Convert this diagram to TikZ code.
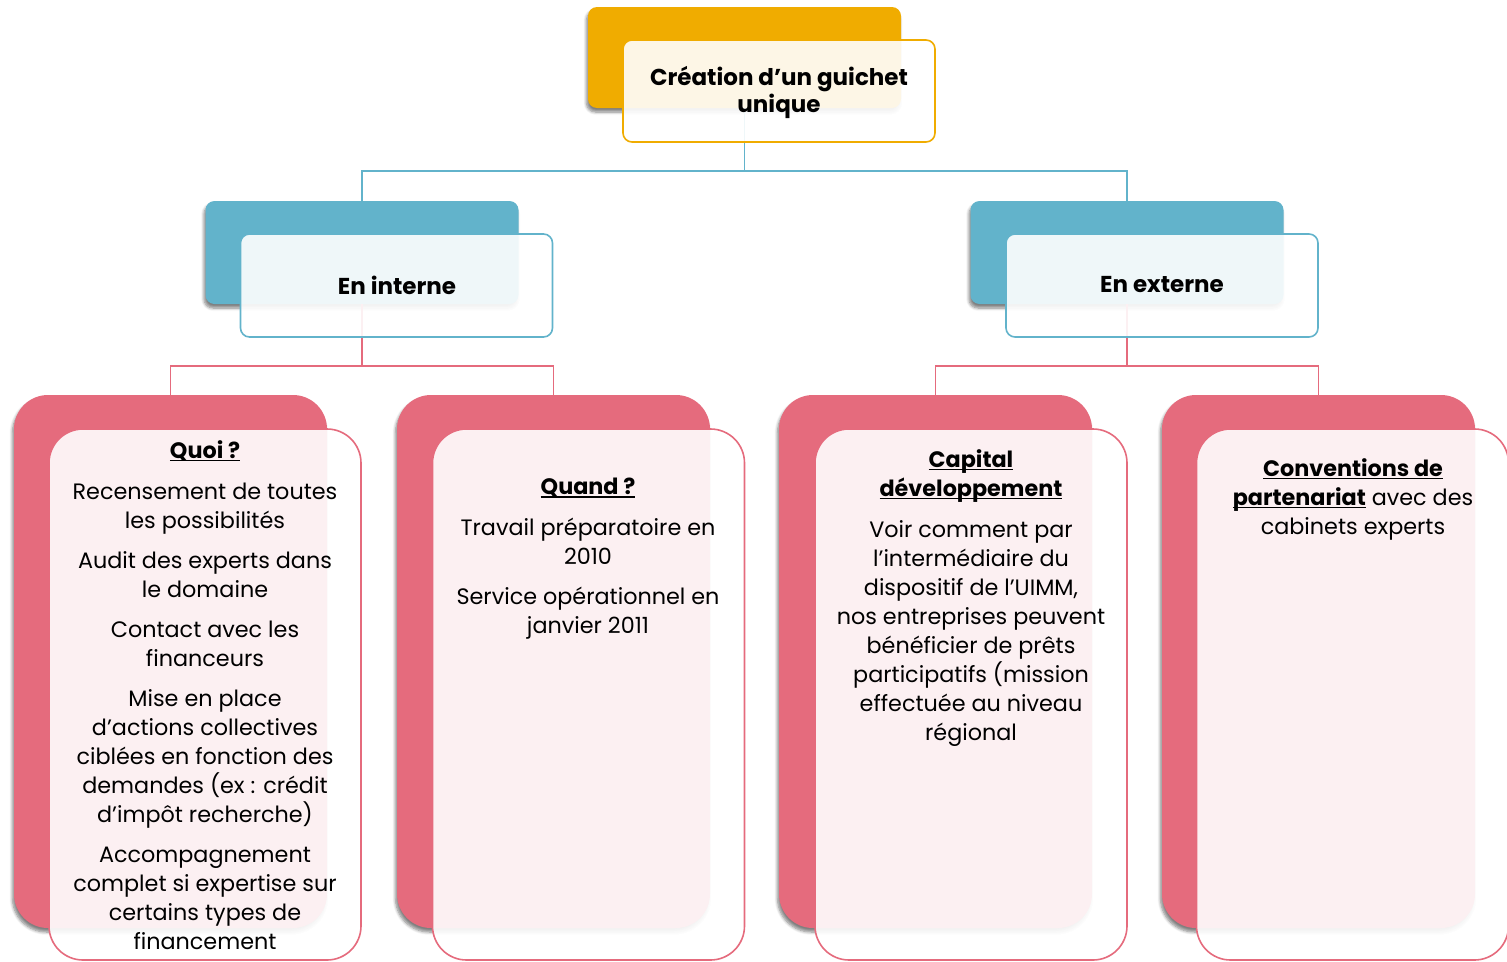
\documentclass[tikz,border=0pt]{standalone}
\usepackage{fontspec}
\setmainfont{Poppins}
\usetikzlibrary{shadows.blur}
\definecolor{corange}{RGB}{240,172,0}
\definecolor{cteal}{RGB}{98,179,203}
\definecolor{cpink}{RGB}{229,107,125}
\newcommand\myul[1]{\leavevmode\setbox0\hbox{#1}\rlap{\copy0}\rule[-3pt]{\wd0}{1.4pt}}
\tikzset{
  shad/.style={blur shadow={shadow xshift=-1.5pt, shadow yshift=-4pt, shadow blur steps=6, shadow blur radius=3pt, shadow opacity=50}},
  backbox/.style={rectangle, draw=none, inner sep=0pt, minimum width=313pt, shad},
  frontbox/.style={rectangle, inner sep=0pt, minimum width=312pt, fill=white, fill opacity=0.9, line width=1.6pt},
  topback/.style={backbox, rounded corners=9pt, minimum height=101pt, fill=corange},
  topfront/.style={frontbox, rounded corners=9pt, minimum height=102pt, draw=corange},
  midback/.style={backbox, rounded corners=9pt, minimum height=103pt, fill=cteal},
  midfront/.style={frontbox, rounded corners=9pt, minimum height=103pt, draw=cteal},
  lowback/.style={backbox, rounded corners=34pt, minimum height=533pt, fill=cpink},
  lowfront/.style={frontbox, rounded corners=34pt, minimum height=531pt, draw=cpink},
  tealline/.style={draw=cteal, line width=1.8pt},
  pinkline/.style={draw=cpink, line width=1.8pt},
  bodytext/.style={align=center, inner sep=0pt, anchor=north, font=\fontsize{22.3}{29}\selectfont, text=black},
  headtext/.style={align=center, inner sep=0pt, font=\fontsize{23}{27.5}\selectfont\bfseries, text=black},
}
\begin{document}
\begin{tikzpicture}[x=1pt,y=-1pt]
\useasboundingbox (0,0) rectangle (1507,961);
\clip (0,0) rectangle (1507,961);
% back boxes
\node[topback] (topb) at (744.5,57.5) {};
\node[midback] (intb) at (362,252.5) {};
\node[midback] (extb) at (1127,252.5) {};
\node[lowback] (quoib) at (170.5,661.5) {};
\node[lowback] (quandb) at (553.5,661.5) {};
\node[lowback] (capb) at (935.5,661.5) {};
\node[lowback] (convb) at (1318.5,661.5) {};
% connectors
\coordinate (j1) at (744.5,171);
\coordinate (j2) at (362,366);
\coordinate (j3) at (1127,366);
\draw[tealline] (topb.south) -- (j1) -| (intb.north);
\draw[tealline] (j1) -| (extb.north);
\draw[pinkline] (intb.south) -- (j2) -| (quoib.north);
\draw[pinkline] (j2) -| (quandb.north);
\draw[pinkline] (extb.south) -- (j3) -| (capb.north);
\draw[pinkline] (j3) -| (convb.north);
% front boxes
\node[topfront] (topf) at (779,91) {};
\node[midfront] (intf) at (396.5,285.5) {};
\node[midfront] (extf) at (1162,285.5) {};
\node[lowfront] (quoif) at (205,694.5) {};
\node[lowfront] (quandf) at (588.5,694.5) {};
\node[lowfront] (capf) at (971,694.5) {};
\node[lowfront] (convf) at (1352.5,694.5) {};
% texts
\node[headtext, anchor=north] (toptxt) at (779,66) {Création d’un guichet\\unique};
\node[headtext] (inttxt) at (397,285) {En interne};
\node[headtext] (exttxt) at (1162,285) {En externe};
\node[bodytext] (quoitxt) at (205,440) {\textbf{\myul{Quoi ?}}\\[12pt]
Recensement de toutes\\les possibilités\\[11pt]
Audit des experts dans\\le domaine\\[11pt]
Contact avec les\\financeurs\\[11pt]
Mise en place\\d’actions collectives\\ciblées en fonction des\\demandes (ex : crédit\\d’impôt recherche)\\[11pt]
Accompagnement\\complet si expertise sur\\certains types de\\financement};
\node[bodytext] (quandtxt) at (588,478) {\textbf{\myul{Quand ?}}\\[12pt]
Travail préparatoire en\\2010\\[11pt]
Service opérationnel en\\janvier 2011};
\node[bodytext] (captxt) at (971,449) {\textbf{\myul{Capital}}\\\textbf{\myul{développement}}\\[12pt]
Voir comment par\\l’intermédiaire du\\dispositif de l’UIMM,\\nos entreprises peuvent\\bénéficier de prêts\\participatifs (mission\\effectuée au niveau\\régional};
\node[bodytext] (convtxt) at (1353,458) {\textbf{\myul{Conventions de}}\\\textbf{\myul{partenariat}} avec des\\cabinets experts};
\end{tikzpicture}
\end{document}
